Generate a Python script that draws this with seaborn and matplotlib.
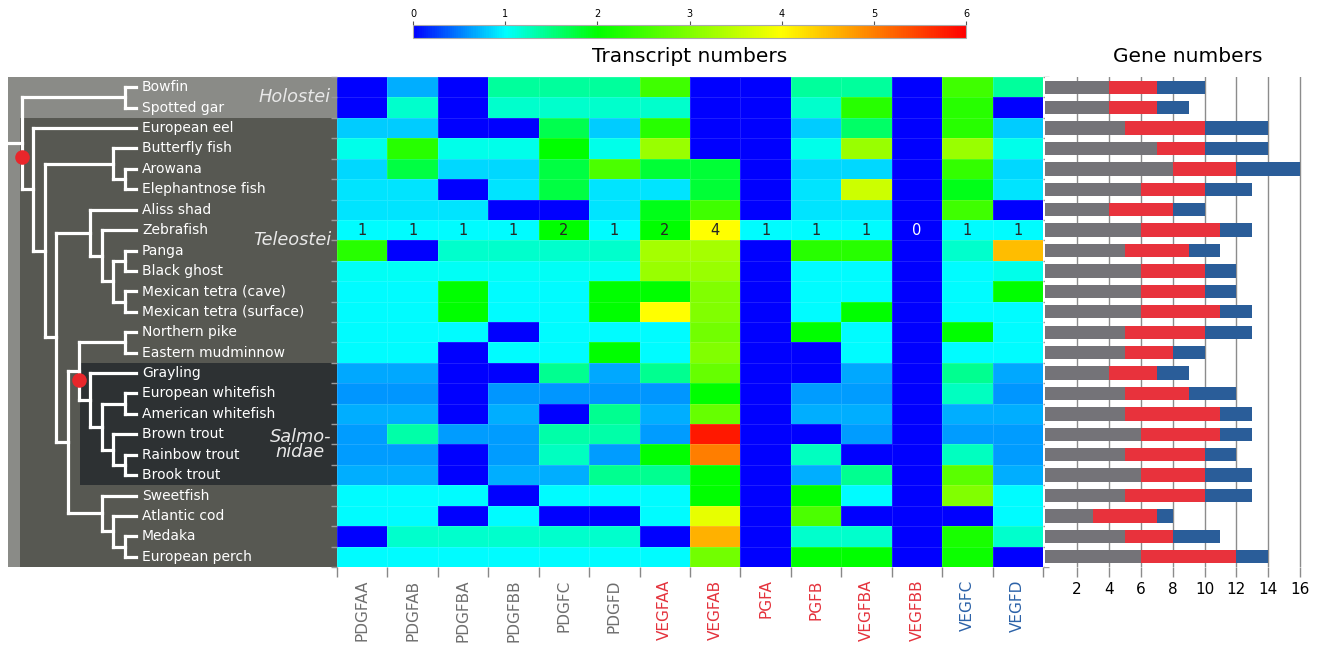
import numpy as np
import pandas as pd
import matplotlib
matplotlib.use('Agg')
import matplotlib.pyplot as plt
import seaborn as sns
from matplotlib.colors import LinearSegmentedColormap
from matplotlib.patches import Rectangle

# species (rows, top to bottom)
species = ['Bowfin', 'Spotted gar', 'European eel', 'Butterfly fish', 'Arowana',
           'Elephantnose fish', 'Aliss shad', 'Zebrafish', 'Panga', 'Black ghost',
           'Mexican tetra (cave)', 'Mexican tetra (surface)', 'Northern pike',
           'Eastern mudminnow', 'Grayling', 'European whitefish', 'American whitefish',
           'Brown trout', 'Rainbow trout', 'Brook trout', 'Sweetfish', 'Atlantic cod',
           'Medaka', 'European perch']

genes = ['PDGFAA', 'PDGFAB', 'PDGFBA', 'PDGFBB', 'PDGFC', 'PDGFD', 'VEGFAA',
         'VEGFAB', 'PGFA', 'PGFB', 'VEGFBA', 'VEGFBB', 'VEGFC', 'VEGFD']
gene_group = ['pdgf'] * 6 + ['vegfa'] * 6 + ['vegfc'] * 2

# transcript numbers per gene (one value per species)
pdgfaa = [0, 0, 0.8, 1.1, 0.85, 0.9, 0.9, 1, 2.3, 1.05, 1, 1, 1, 1, 0.67, 0.6, 0.7, 0.63, 0.63, 0.7, 1, 1, 0, 1]
pdgfab = [0.7, 1.2, 0.8, 2.3, 1.75, 0.9, 0.9, 1, 0, 1.05, 1, 1, 1, 1, 0.67, 0.6, 0.7, 1.35, 0.63, 0.7, 1, 1, 1.2, 1]
pdgfba = [0, 0, 0, 1.1, 0.85, 0, 0.9, 1, 1.2, 1.05, 2, 2, 1, 0, 0, 0, 0, 0.63, 0, 0, 1, 0, 1.2, 1]
pdgfbb = [1.4, 1.2, 0, 1.1, 0.85, 0.9, 0, 1, 1.2, 1.05, 1, 1, 0, 1, 0, 0.6, 0.7, 0.63, 0.63, 0.7, 0, 1, 1.2, 1]
pdgfc = [1.4, 1.2, 1.7, 2.0, 1.75, 1.75, 0, 2, 1.2, 1.05, 1, 1, 1, 1, 1.45, 0.6, 0, 1.35, 1.25, 0.7, 1, 0, 1.2, 1]
pdgfd = [1.4, 1.2, 0.8, 1.1, 2.6, 0.9, 0.9, 1, 1.2, 1.05, 2, 2, 1, 2, 0.67, 0.6, 1.45, 1.35, 0.63, 1.45, 1, 0, 1.2, 1]
vegfaa = [2.5, 1.2, 2.3, 3.2, 1.8, 0.9, 1.9, 2, 3.3, 3.2, 2, 4, 1, 1, 1.45, 0.6, 0.7, 0.63, 2.0, 1.45, 1, 1, 0, 1]
vegfab = [0, 0, 0, 0, 1.8, 1.8, 2.5, 4, 3.3, 3.2, 3.0, 3.0, 2.9, 3.0, 2.8, 2.0, 2.8, 5.8, 5.0, 2.0, 2.0, 3.8, 4.6, 2.9]
pgfa = [0, 0, 0, 0, 0, 0, 0, 1, 0, 0, 0, 0, 0, 0, 0, 0, 0, 0, 0, 0, 0, 0, 0, 0]
pgfb = [1.4, 1.2, 0.8, 1.1, 0.85, 0.9, 0.9, 1, 2.3, 1, 1, 1, 2, 0, 0, 0.63, 0.7, 0, 1.25, 0.7, 2.0, 2.6, 1.2, 2.0]
vegfba = [1.4, 2.3, 1.6, 3.2, 0.85, 3.6, 0.9, 1, 2.3, 1, 1, 2, 1, 1, 0.67, 0.63, 0.7, 0.63, 0, 1.45, 1, 0, 1.2, 2.0]
vegfbb = [0, 0, 0, 0, 0, 0, 0, 0, 0, 0, 0, 0, 0, 0, 0, 0, 0, 0, 0, 0, 0, 0, 0, 0]
vegfc = [2.5, 2.3, 2.3, 3.2, 2.4, 1.9, 2.5, 1, 1.2, 1, 1, 1, 2, 1, 1.45, 1.25, 0.7, 0.63, 1.25, 2.7, 3.0, 0, 2.2, 2.1]
vegfd = [1.4, 0, 0.8, 1.1, 0.85, 0.9, 0, 1, 4.5, 1.1, 2, 1, 1, 1, 0.67, 0.6, 0.7, 0.63, 0.63, 0.7, 1, 1, 1.2, 0]

# gene numbers per species (stacked bars)
pdgf_genes = [4, 4, 5, 7, 8, 6, 4, 6, 5, 6, 6, 6, 5, 5, 4, 5, 5, 6, 5, 6, 5, 3, 5, 6]
vegfa_genes = [3, 3, 5, 3, 4, 4, 4, 5, 4, 4, 4, 5, 5, 3, 3, 4, 6, 5, 5, 4, 5, 4, 3, 6]
vegfc_genes = [3, 2, 4, 4, 4, 3, 2, 2, 2, 2, 2, 2, 3, 2, 2, 3, 2, 2, 2, 3, 3, 1, 3, 2]

annotated_species = 'Zebrafish'

# tree topology
holostei = ('Bowfin', 'Spotted gar')
osteoglossomorpha = ('Butterfly fish', ('Arowana', 'Elephantnose fish'))
otomorpha = ('Aliss shad', ('Zebrafish', (('Panga', 'Black ghost'),
                                          ('Mexican tetra (cave)', 'Mexican tetra (surface)'))))
salmonidae = ('Grayling', (('European whitefish', 'American whitefish'),
                           ('Brown trout', ('Rainbow trout', 'Brook trout'))))
protacanthopterygii = (('Northern pike', 'Eastern mudminnow'), salmonidae)
neoteleostei = ('Sweetfish', ('Atlantic cod', ('Medaka', 'European perch')))
teleostei = ('European eel', (osteoglossomorpha, (otomorpha, (protacanthopterygii, neoteleostei))))
tree = (holostei, teleostei)
duplications = [teleostei, salmonidae]

colors = {'pdgf': '#747378', 'vegfa': '#e8323c', 'vegfc': '#2a5d99'}
label_colors = {'pdgf': '#6e6e6e', 'vegfa': '#e4323c', 'vegfc': '#2c62a8'}

df = pd.DataFrame({'PDGFAA': pdgfaa, 'PDGFAB': pdgfab, 'PDGFBA': pdgfba, 'PDGFBB': pdgfbb,
                   'PDGFC': pdgfc, 'PDGFD': pdgfd, 'VEGFAA': vegfaa, 'VEGFAB': vegfab,
                   'PGFA': pgfa, 'PGFB': pgfb, 'VEGFBA': vegfba, 'VEGFBB': vegfbb,
                   'VEGFC': vegfc, 'VEGFD': vegfd}, index=species)[genes]

annot = np.full(df.shape, '', dtype=object)
row = species.index(annotated_species)
annot[row] = ['%g' % v for v in df.loc[annotated_species]]

cmap = LinearSegmentedColormap.from_list(
    'transcripts', [(0, '#0000ff'), (1 / 6, '#00ffff'), (2 / 6, '#00ff00'),
                    (4 / 6, '#ffff00'), (1, '#ff0000')])

W, H = 1318, 648


def box(x0, y0, x1, y1):
    return [x0 / W, 1 - y1 / H, (x1 - x0) / W, (y1 - y0) / H]


fig = plt.figure(figsize=(W / 100, H / 100), dpi=100)
ax_tree = fig.add_axes(box(0, 77, 337, 567))
ax_heat = fig.add_axes(box(337, 77, 1043, 567))
ax_bar = fig.add_axes(box(1045, 77, 1305, 567))
cax = fig.add_axes(box(413, 25, 966, 38))

## heatmap of transcript numbers
sns.heatmap(df, ax=ax_heat, cmap=cmap, vmin=0, vmax=6, cbar_ax=cax,
            cbar_kws={'orientation': 'horizontal'},
            annot=annot, fmt='', annot_kws={'fontsize': 10.5},
            linewidths=0.4, linecolor=(1, 1, 1, 0.12))
ax_heat.set_xlabel('')
ax_heat.set_ylabel('')
ax_heat.set_yticks([])
ax_heat.set_xticks(np.arange(len(genes)) + 0.5)
ax_heat.set_xticklabels(genes, rotation=90, fontsize=11)
for lbl, grp in zip(ax_heat.get_xticklabels(), gene_group):
    lbl.set_color(label_colors[grp])
ax_heat.tick_params(axis='x', which='major', length=0, pad=9)
ax_heat.set_xticks(np.arange(len(genes) + 1), minor=True)
ax_heat.set_yticks(np.arange(len(species) + 1), minor=True)
ax_heat.tick_params(axis='x', which='minor', length=7, color='#888888', width=1)
ax_heat.tick_params(axis='y', which='minor', left=True, right=True, length=4,
                    color='#9a9a9a', width=1)

cbar = ax_heat.collections[0].colorbar
cbar.set_ticks(range(7))
cax.xaxis.set_ticks_position('top')
cax.tick_params(labelsize=7, length=3, pad=1, color='#555555')
cbar.outline.set_edgecolor('#aaaaaa')
cbar.outline.set_linewidth(0.8)

## tree panel
ax_tree.set_xlim(0, 337)
ax_tree.set_ylim(len(species), 0)
ax_tree.axis('off')
ax_tree.add_patch(Rectangle((8, 0), 329, len(species), color='#8a8b87', lw=0))
ax_tree.add_patch(Rectangle((20, 2), 317, len(species) - 2, color='#575852', lw=0))
ax_tree.add_patch(Rectangle((80, 14), 257, 6, color='#2d3133', lw=0))

LEAF_X = 136
STEP = 11.4
line_kw = dict(color='white', lw=2.3, solid_capstyle='projecting')


def draw(node):
    if isinstance(node, str):
        return LEAF_X, species.index(node) + 0.5, 0
    kids = [draw(c) for c in node]
    h = 1 + max(k[2] for k in kids)
    x = LEAF_X - h * STEP
    ys = [k[1] for k in kids]
    y = np.mean(ys)
    ax_tree.plot([x, x], [min(ys), max(ys)], **line_kw)
    for c, (cx, cy, _) in zip(node, kids):
        ax_tree.plot([x, cx], [cy, cy], **line_kw)
        if any(c is d for d in duplications):
            ax_tree.scatter(x, y + 0.3 * (cy - y), s=110, color='#e8262b', zorder=5, lw=0)
    return x, y, h


root_x, root_y, _ = draw(tree)
ax_tree.plot([8, root_x], [root_y, root_y], **line_kw)

for i, name in enumerate(species):
    ax_tree.text(LEAF_X + 6, i + 0.5, name, color='white', fontsize=10, va='center')

clade_kw = dict(color='#e8e8e8', fontsize=12.8, style='italic', ha='right', va='center')
ax_tree.text(331, 1.0, 'Holostei', **clade_kw)
ax_tree.text(331, 8.0, 'Teleostei', **clade_kw)
ax_tree.text(331, 18.0, 'Salmo-\nnidae', multialignment='center', linespacing=0.85, **clade_kw)

## stacked gene numbers
red_end = np.array(pdgf_genes) + np.array(vegfa_genes)
total = red_end + np.array(vegfc_genes)
sns.barplot(x=total, y=species, orient='h', color=colors['vegfc'], saturation=1,
            width=0.65, ax=ax_bar)
sns.barplot(x=red_end, y=species, orient='h', color=colors['vegfa'], saturation=1,
            width=0.65, ax=ax_bar)
sns.barplot(x=pdgf_genes, y=species, orient='h', color=colors['pdgf'], saturation=1,
            width=0.65, ax=ax_bar)
ax_bar.set_xlim(0, 16.3)
ax_bar.set_ylim(len(species) - 0.5, -0.5)
ax_bar.set_yticks([])
ax_bar.set_xticks(range(2, 17, 2))
ax_bar.grid(axis='x', color='#8c8c8c', lw=1)
ax_bar.set_axisbelow(True)
for s in ax_bar.spines.values():
    s.set_visible(False)
ax_bar.tick_params(axis='x', length=7, color='#8c8c8c', width=1, labelsize=11, pad=4)
ax_bar.set_xlabel('')
ax_bar.set_ylabel('')

fig.text(690 / W, 1 - 57 / H, 'Transcript numbers', fontsize=14.5, ha='center', va='center')
fig.text(1188 / W, 1 - 57 / H, 'Gene numbers', fontsize=14.5, ha='center', va='center')

fig.savefig('out.png', dpi=100)
